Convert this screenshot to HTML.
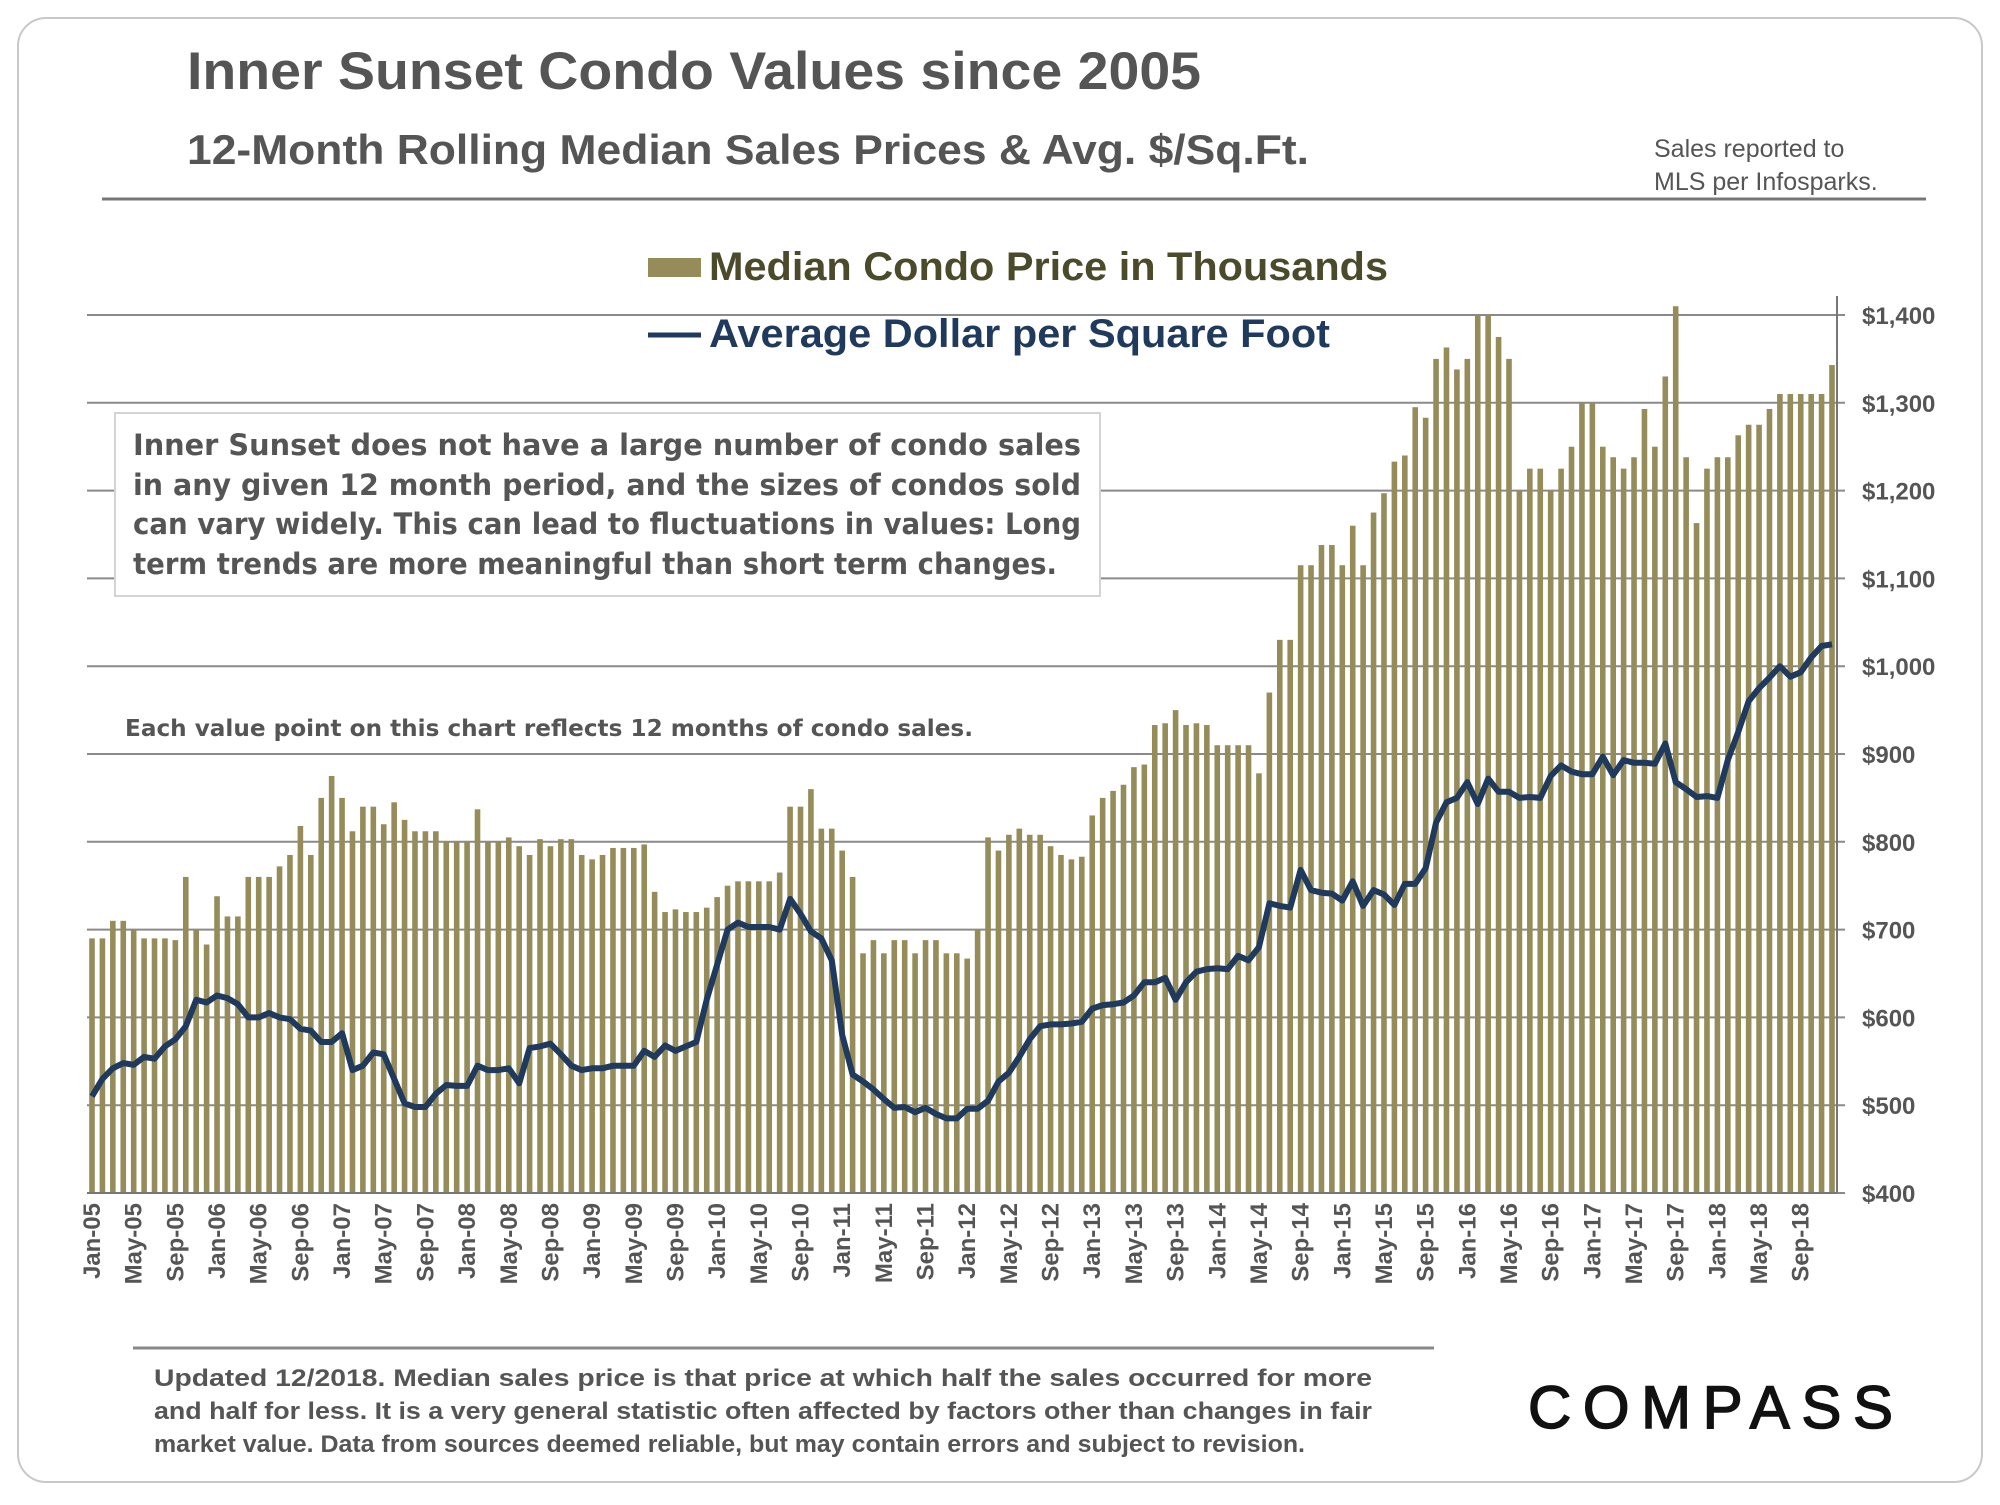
<!DOCTYPE html>
<html><head><meta charset="utf-8">
<style>
html,body{margin:0;padding:0;background:#fff;}
body{width:2000px;height:1500px;overflow:hidden;position:relative;font-family:"Liberation Sans",sans-serif;}
</style></head>
<body>
<svg id="chart" width="2000" height="1500" viewBox="0 0 2000 1500" xmlns="http://www.w3.org/2000/svg">
<rect x="18" y="18" width="1964" height="1464" rx="28" fill="#fff" stroke="#c8c8c8" stroke-width="2"/>
<text x="187" y="89" font-family="Liberation Sans, sans-serif" font-weight="bold" font-size="53" fill="#555" textLength="1014" lengthAdjust="spacingAndGlyphs">Inner Sunset Condo Values since 2005</text>
<text x="187" y="164" font-family="Liberation Sans, sans-serif" font-weight="bold" font-size="42" fill="#555" textLength="1122" lengthAdjust="spacingAndGlyphs">12-Month Rolling Median Sales Prices &amp; Avg. $/Sq.Ft.</text>
<text x="1654" y="157" font-family="Liberation Sans, sans-serif" font-size="25" fill="#555">Sales reported to</text>
<text x="1654" y="190" font-family="Liberation Sans, sans-serif" font-size="25" fill="#555">MLS per Infosparks.</text>
<line x1="102" y1="199" x2="1926" y2="199" stroke="#777" stroke-width="3"/>
<g id="grid"></g>
<g id="bars"></g>
<path id="sqftLine" fill="none" stroke="#1f3a5c" stroke-width="6" stroke-linejoin="round"/>
<line x1="1837" y1="296" x2="1837" y2="1193" stroke="#777" stroke-width="2"/>
<line x1="87" y1="1193" x2="1837" y2="1193" stroke="#777" stroke-width="2"/>
<g id="yticks"></g>
<g id="xticks"></g>
<g>
<rect x="648" y="258" width="53" height="19" fill="#958c5a"/>
<text x="709" y="280" font-family="Liberation Sans, sans-serif" font-weight="bold" font-size="40" fill="#4b4a2a" textLength="679" lengthAdjust="spacingAndGlyphs">Median Condo Price in Thousands</text>
<line x1="648" y1="335" x2="701" y2="335" stroke="#1f3a5c" stroke-width="5"/>
<text x="709" y="347" font-family="Liberation Sans, sans-serif" font-weight="bold" font-size="40" fill="#1f3a5c" textLength="621" lengthAdjust="spacingAndGlyphs">Average Dollar per Square Foot</text>
</g>
<g>
<rect x="115" y="413" width="985" height="183" fill="#fff" stroke="#d4d4d4" stroke-width="2"/>
<text font-family="DejaVu Sans, sans-serif" font-weight="bold" font-size="29" fill="#555">
<tspan x="133" y="455" textLength="948" lengthAdjust="spacingAndGlyphs">Inner Sunset does not have a large number of condo sales</tspan>
<tspan x="133" y="495" textLength="948" lengthAdjust="spacingAndGlyphs">in any given 12 month period, and the sizes of condos sold</tspan>
<tspan x="133" y="534" textLength="948" lengthAdjust="spacingAndGlyphs">can vary widely. This can lead to fluctuations in values: Long</tspan>
<tspan x="133" y="574" textLength="924" lengthAdjust="spacingAndGlyphs">term trends are more meaningful than short term changes.</tspan>
</text>
</g>
<text x="125" y="736" font-family="DejaVu Sans, sans-serif" font-weight="bold" font-size="23" fill="#555" textLength="848" lengthAdjust="spacingAndGlyphs">Each value point on this chart reflects 12 months of condo sales.</text>
<line x1="133" y1="1348" x2="1434" y2="1348" stroke="#888" stroke-width="3"/>
<text font-family="Liberation Sans, sans-serif" font-weight="bold" font-size="24" fill="#555">
<tspan x="154" y="1386" textLength="1218" lengthAdjust="spacingAndGlyphs">Updated 12/2018. Median sales price is that price at which half the sales occurred for more</tspan>
<tspan x="154" y="1419" textLength="1218" lengthAdjust="spacingAndGlyphs">and half for less. It is a very general statistic often affected by factors other than changes in fair</tspan>
<tspan x="154" y="1452" textLength="1151" lengthAdjust="spacingAndGlyphs">market value. Data from sources deemed reliable, but may contain errors and subject to revision.</tspan>
</text>
<text x="1528" y="1428" font-family="Liberation Sans, sans-serif" font-size="60" fill="#111" stroke="#111" stroke-width="1.5" textLength="365" lengthAdjust="spacing">COMPASS</text>
</svg>
<script>
const months = ["Jan","Feb","Mar","Apr","May","Jun","Jul","Aug","Sep","Oct","Nov","Dec"];
const years = [5,6,7,8,9,10,11,12,13,14,15,16,17,18];
const medianPrice = [
690,690,710,710,700,690,690,690,688,760,700,683,
738,715,715,760,760,760,772,785,818,785,850,875,
850,812,840,840,820,845,825,812,812,812,800,800,
800,837,800,800,805,795,785,803,795,803,803,785,
780,785,793,793,793,797,743,720,723,720,720,725,
737,750,755,755,755,755,765,840,840,860,815,815,
790,760,673,688,673,688,688,673,688,688,673,673,
667,700,805,790,808,815,808,808,795,785,780,783,
830,850,858,865,885,888,933,935,950,933,935,933,
910,910,910,910,878,970,1030,1030,1115,1115,1138,1138,
1115,1160,1115,1175,1197,1233,1240,1295,1283,1350,1363,1338,
1350,1400,1400,1375,1350,1200,1225,1225,1200,1225,1250,1300,
1300,1250,1238,1225,1238,1293,1250,1330,1410,1238,1163,1225,
1238,1238,1263,1275,1275,1293,1310,1310,1310,1310,1310,1343];
const avgSqft = [
510,530,542,548,546,555,553,567,575,590,620,617,
625,622,615,600,600,605,600,598,587,585,572,572,
582,540,545,560,558,530,502,498,498,513,523,522,
522,545,540,540,542,525,565,567,570,558,545,540,
542,542,545,545,545,562,555,568,562,567,572,620,
660,700,708,703,703,703,700,735,718,698,690,665,
580,535,527,518,507,497,498,492,497,490,485,485,
496,496,505,527,537,555,575,590,592,592,593,595,
610,614,615,617,625,640,640,645,620,640,652,655,
656,655,670,665,680,730,727,725,768,745,742,741,
733,755,727,745,740,728,752,752,770,822,845,850,
868,843,872,857,857,850,851,850,875,887,880,877,
877,897,876,893,890,890,889,912,868,860,851,852,
850,893,925,960,975,987,1000,988,993,1010,1023,1025];
const yTicks = [400,500,600,700,800,900,1000,1100,1200,1300,1400];
const yTickLabels = ["$400","$500","$600","$700","$800","$900","$1,000","$1,100","$1,200","$1,300","$1,400"];

const NS = "http://www.w3.org/2000/svg";
const X0 = 92, X1 = 1832, Y0 = 1193, Y1 = 315, VMIN = 400, VMAX = 1400;
const n = medianPrice.length;
function xScale(i){ return X0 + i * (X1 - X0) / (n - 1); }
function yScale(v){ return Y0 - (v - VMIN) * (Y0 - Y1) / (VMAX - VMIN); }

const grid = document.getElementById('grid');
const yt = document.getElementById('yticks');
yTicks.forEach((v, k) => {
  const l = document.createElementNS(NS, 'line');
  l.setAttribute('x1', 87); l.setAttribute('x2', 1845);
  l.setAttribute('y1', yScale(v)); l.setAttribute('y2', yScale(v));
  l.setAttribute('stroke', '#8a8a8a'); l.setAttribute('stroke-width', 2);
  
  
  grid.appendChild(l);
  const t = document.createElementNS(NS, 'text');
  t.setAttribute('x', 1862); t.setAttribute('y', yScale(v) + 9);
  t.setAttribute('font-family', 'Liberation Sans, sans-serif');
  t.setAttribute('font-weight', 'bold'); t.setAttribute('font-size', '24'); t.setAttribute('fill', '#555');
  t.textContent = yTickLabels[k];
  
  
  yt.appendChild(t);
});

const bars = document.getElementById('bars');
medianPrice.forEach((v, i) => {
  const r = document.createElementNS(NS, 'rect');
  const w = 5.6;
  r.setAttribute('x', xScale(i) - w / 2); r.setAttribute('width', w);
  r.setAttribute('y', yScale(v)); r.setAttribute('height', Y0 - yScale(v));
  r.setAttribute('fill', '#958c5a');
  
  
  bars.appendChild(r);
});

let d = '';
avgSqft.forEach((v, i) => { d += (i ? 'L' : 'M') + xScale(i).toFixed(1) + ',' + yScale(v).toFixed(1); });
document.getElementById('sqftLine').setAttribute('d', d);

const xt = document.getElementById('xticks');
for (let i = 0; i < n; i += 4) {
  const label = months[i % 12] + '-' + String(years[Math.floor(i / 12)]).padStart(2, '0');
  const t = document.createElementNS(NS, 'text');
  const x = xScale(i) + 8, y = 1203;
  t.setAttribute('x', x); t.setAttribute('y', y);
  t.setAttribute('transform', 'rotate(-90 ' + x + ' ' + y + ')');
  t.setAttribute('text-anchor', 'end');
  t.setAttribute('font-family', 'Liberation Sans, sans-serif');
  t.setAttribute('font-weight', 'bold'); t.setAttribute('font-size', '24'); t.setAttribute('fill', '#555');
  t.textContent = label;
  
  
  xt.appendChild(t);
}
</script>
</body></html>
